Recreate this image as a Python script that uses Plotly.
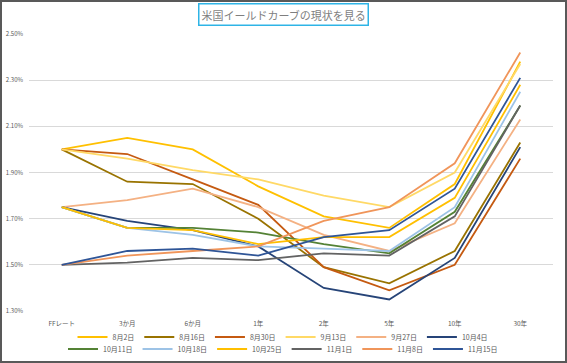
import plotly.graph_objects as go

categories = ["FFレート", "3か月", "6か月", "1年", "2年", "5年", "10年", "30年"]

s_0802 = [2.00, 2.05, 2.00, 1.84, 1.71, 1.66, 1.85, 2.38]
s_0816 = [2.00, 1.86, 1.85, 1.70, 1.49, 1.42, 1.56, 2.03]
s_0830 = [2.00, 1.98, 1.87, 1.76, 1.49, 1.39, 1.50, 1.96]
s_0913 = [2.00, 1.96, 1.91, 1.87, 1.80, 1.75, 1.90, 2.37]
s_0927 = [1.75, 1.78, 1.83, 1.75, 1.63, 1.56, 1.68, 2.13]
s_1004 = [1.75, 1.69, 1.65, 1.58, 1.40, 1.35, 1.53, 2.01]
s_1011 = [1.75, 1.66, 1.66, 1.64, 1.59, 1.55, 1.73, 2.19]
s_1018 = [1.75, 1.66, 1.63, 1.58, 1.57, 1.56, 1.75, 2.25]
s_1025 = [1.75, 1.66, 1.65, 1.59, 1.62, 1.62, 1.79, 2.28]
s_1101 = [1.50, 1.51, 1.53, 1.52, 1.55, 1.54, 1.71, 2.19]
s_1108 = [1.50, 1.54, 1.56, 1.58, 1.69, 1.75, 1.94, 2.42]
s_1115 = [1.50, 1.56, 1.57, 1.54, 1.62, 1.65, 1.83, 2.31]

series_names = ["8月2日", "8月16日", "8月30日", "9月13日", "9月27日", "10月4日",
                "10月11日", "10月18日", "10月25日", "11月1日", "11月8日", "11月15日"]
series_values = [s_0802, s_0816, s_0830, s_0913, s_0927, s_1004,
                 s_1011, s_1018, s_1025, s_1101, s_1108, s_1115]
colors = ["#FFC000", "#997300", "#C55A11", "#FFD966", "#F4B183", "#264478",
          "#548235", "#9DC3E6", "#FFBF00", "#636363", "#F0955A", "#2F5597"]

FONT = "Noto Sans CJK JP"

fig = go.Figure()
for i, (name, vals, col) in enumerate(zip(series_names, series_values, colors)):
    fig.add_trace(go.Scatter(
        x=categories, y=vals, name=name, mode="lines",
        line=dict(color=col, width=1.8),
        legend="legend" if i < 6 else "legend2",
    ))

W, H = 567, 363
ml, mr, mt, mb = 29, 14, 34, 52
pw, ph = W - ml - mr, H - mt - mb

legend_common = dict(
    orientation="h", xanchor="center", x=(283 - ml) / pw, yanchor="middle",
    font=dict(family=FONT, size=7, color="#595959"),
    itemwidth=30, tracegroupgap=0, bgcolor="rgba(0,0,0,0)",
)

fig.update_layout(
    width=W, height=H,
    margin=dict(l=ml, r=mr, t=mt, b=mb, pad=0, autoexpand=False),
    paper_bgcolor="white", plot_bgcolor="white",
    font=dict(family=FONT, color="#595959"),
    showlegend=True,
    legend=dict(**legend_common, y=-(337 - (H - mb)) / ph),
    legend2=dict(**legend_common, y=-(349 - (H - mb)) / ph),
    xaxis=dict(
        type="category", range=[-0.5, 7.5], showgrid=False, zeroline=False,
        showline=False, ticks="", automargin=False, ticklabelstandoff=7,
        tickfont=dict(family=FONT, size=6.5, color="#595959"),
    ),
    yaxis=dict(
        range=[1.30, 2.50], dtick=0.2, tick0=1.30, tickformat=".2f", ticksuffix="%",
        showgrid=True, gridcolor="#D9D9D9", gridwidth=1, zeroline=False,
        showline=False, ticks="", ticklabelstandoff=5, automargin=False,
        tickfont=dict(family=FONT, size=6, color="#595959"),
    ),
    annotations=[dict(
        text="米国イールドカーブの現状を見る", xref="paper", yref="paper",
        x=(283 - ml) / pw, y=1 + (mt - 15) / ph, xanchor="center", yanchor="middle",
        showarrow=False, font=dict(family=FONT, size=11, color="#7F7F7F"),
        bordercolor="#2EB4E6", borderwidth=1.5, borderpad=2, bgcolor="white",
    )],
    shapes=[dict(
        type="rect", xref="paper", yref="paper",
        x0=-(ml - 1) / pw, x1=1 + (mr - 1) / pw,
        y0=-(mb - 1) / ph, y1=1 + (mt - 1) / ph,
        line=dict(color="#595959", width=2), layer="above",
    )],
)

fig.write_html("out.html", config={"displayModeBar": False},
               post_script="document.body.style.margin='0';")
